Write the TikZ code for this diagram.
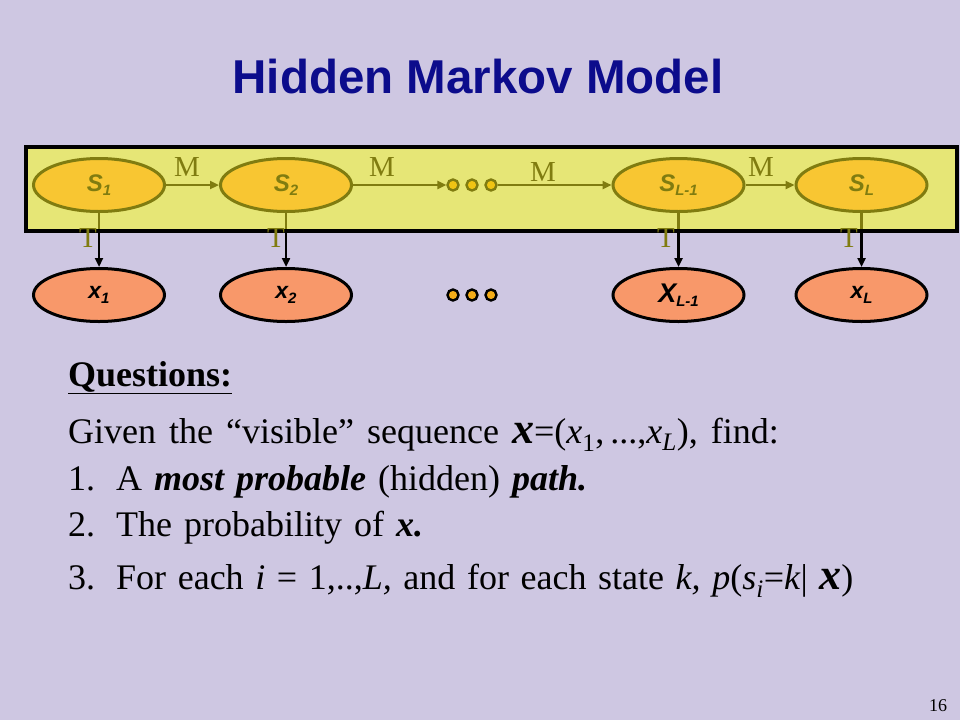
\documentclass[tikz,border=0pt]{standalone}
\usepackage{fontspec}
\setmainfont{Liberation Serif}
\newfontfamily\arialfont{Liberation Sans}
\usetikzlibrary{arrows.meta,shapes.geometric}
\definecolor{bgc}{RGB}{206,199,226}
\definecolor{titleblue}{RGB}{12,12,140}
\definecolor{boxyellow}{RGB}{230,230,118}
\definecolor{statefill}{RGB}{248,198,50}
\definecolor{olivec}{RGB}{128,124,16}
\definecolor{obsfill}{RGB}{248,152,106}
\definecolor{dotup}{RGB}{240,196,20}
\definecolor{dotlow}{RGB}{244,172,24}
\newcommand{\widespace}[1]{\spaceskip=#1\relax}
\tikzset{
  statenode/.style={ellipse, draw=olivec, line width=3pt, fill=statefill,
    minimum width=131pt, minimum height=53pt, inner sep=0pt,
    text=olivec, font=\arialfont\bfseries\itshape\fontsize{24}{24}\selectfont},
  obsnode/.style={ellipse, draw=black, line width=3pt, fill=obsfill,
    minimum width=131pt, minimum height=53pt, inner sep=0pt,
    text=black, font=\arialfont\bfseries\itshape\fontsize{23}{23}\selectfont},
  updot/.style={circle, draw=olivec, line width=2.4pt, fill=dotup,
    minimum size=11pt, inner sep=0pt},
  lowdot/.style={circle, draw=black, line width=2.4pt, fill=dotlow,
    minimum size=11pt, inner sep=0pt},
  marrow/.style={draw=olivec, line width=2.5pt, -{Triangle[length=9pt,width=8pt]}},
  tarrow/.style={draw=black, line width=2.5pt, -{Triangle[length=9pt,width=8pt]}},
  oliveseg/.style={draw=olivec, line width=2.5pt},
  lbl/.style={text=olivec, font=\fontsize{29}{29}\selectfont, inner sep=0pt},
  bodytext/.style={anchor=base west, inner sep=0pt, font=\fontsize{36}{36}\selectfont},
}
\newcommand{\subs}[1]{\raisebox{-0.35ex}{\fontsize{15}{15}\selectfont #1}}
\begin{document}
\begin{tikzpicture}[x=1pt,y=-1pt]
\fill[bgc] (0,0) rectangle (960,720);
\useasboundingbox (0,0) rectangle (960,720);

\node[anchor=base, text=titleblue, inner sep=0pt,
  font=\arialfont\bfseries\fontsize{47.5}{50}\selectfont] (title) at (478,93) {Hidden Markov Model};

\node[fill=boxyellow, minimum width=931pt, minimum height=84pt, inner sep=0pt] (box) at (491.5,189) {};

\node[statenode] (s1) at (99,185) {S\subs{1}};
\node[statenode] (s2) at (286,185) {S\subs{2}};
\node[statenode] (s3) at (678.5,185) {S\subs{L-1}};
\node[statenode] (s4) at (861.5,185) {S\subs{L}};

\node[obsnode] (x1) at (99,295) {x\subs{1}};
\node[obsnode] (x2) at (286,295) {x\subs{2}};
\node[obsnode] (x3) at (678.5,295) {{\fontsize{27}{27}\selectfont X}\subs{L-1}};
\node[obsnode] (x4) at (861.5,295) {x\subs{L}};

\node[updot] (d1) at (453,185) {};
\node[updot] (d2) at (472,185) {};
\node[updot] (d3) at (491,185) {};
\node[lowdot] (e1) at (453,295) {};
\node[lowdot] (e2) at (472,295) {};
\node[lowdot] (e3) at (491,295) {};

\draw[marrow] (s1) -- (s2);
\draw[marrow] (s2) -- (d1);
\draw[marrow] (d3) -- (s3);
\draw[marrow] (s3) -- (s4);

\foreach \s/\x in {s1/x1,s2/x2,s3/x3,s4/x4}{
  \draw[tarrow] (\s) -- (\x);
  \draw[oliveseg] (\s.south) -- (\s.south |- box.south);
}

\draw[black, line width=3.5pt] (box.north west) rectangle (box.south east);

\node[lbl] (m1) at (187,167) {M};
\node[lbl] (m2) at (382,167) {M};
\node[lbl] (m3) at (543,172) {M};
\node[lbl] (m4) at (761,167) {M};
\node[lbl] (t1) at (88,238) {T};
\node[lbl] (t2) at (276,238) {T};
\node[lbl] (t3) at (666,238) {T};
\node[lbl] (t4) at (849,238) {T};

\node[bodytext] (q) at (68,386) {\bfseries\underline{Questions:}};
\node[bodytext] (given) at (68,443) {\widespace{13pt}Given the “visible” sequence {\bfseries\itshape\fontsize{44}{44}\selectfont x}=(\textit{x}\textsubscript{1},\,...,\textit{x}\textsubscript{\textit{L}}), find:};
\node[bodytext] (n1) at (68,490) {1.};
\node[bodytext] (l1) at (116,490) {\widespace{12pt}A \textbf{\textit{most probable}} (hidden) \textbf{\textit{path.}}};
\node[bodytext] (n2) at (68,536) {2.};
\node[bodytext] (l2) at (116,536) {\widespace{12pt}The probability of \textbf{\textit{x.}}};
\node[bodytext] (n3) at (68,589) {3.};
\node[bodytext] (l3) at (116,589) {\widespace{11.6pt}For each \textit{i} = 1,..,\textit{L,} and for each state \textit{k,} \textit{p}(\textit{s}\textsubscript{\textit{i}}=\textit{k}| {\bfseries\itshape\fontsize{44}{44}\selectfont x})};

\node[anchor=base, inner sep=0pt, font=\fontsize{18}{18}\selectfont] (pg) at (938,711) {16};
\end{tikzpicture}
\end{document}
